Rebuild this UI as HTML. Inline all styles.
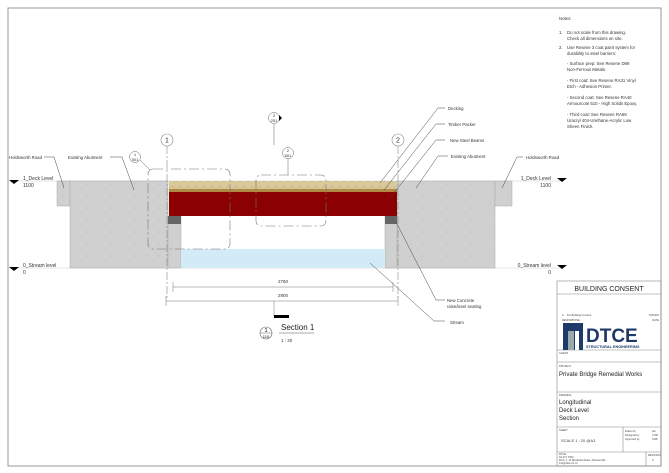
<!DOCTYPE html>
<html><head><meta charset="utf-8"><style>
html,body{margin:0;padding:0;background:#fff;}
svg{display:block;font-family:"Liberation Sans",sans-serif;}
</style></head><body>
<svg width="669" height="473" viewBox="0 0 669 473" xmlns="http://www.w3.org/2000/svg">
<defs>
<pattern id="dk" width="8" height="8" patternUnits="userSpaceOnUse">
<rect width="8" height="8" fill="#d9c99a"/>
<path d="M0 6 L4 2 L8 6" stroke="#b8a070" stroke-width="0.5" fill="none"/>
</pattern>
<pattern id="cc" width="12" height="12" patternUnits="userSpaceOnUse">
<rect width="12" height="12" fill="#d0d0d0"/>
<circle cx="3" cy="4" r="0.5" fill="#aaa"/><circle cx="9" cy="9" r="0.4" fill="#b5b5b5"/>
</pattern>
</defs>
<rect x="8" y="8" width="653" height="458" fill="none" stroke="#999" stroke-width="1"/>
<!-- notes -->
<g font-size="4.3" fill="#333">
<text x="559" y="20">Notes:</text>
<text x="559" y="34">1.</text><text x="567" y="34">Do not scale from this drawing.</text>
<text x="567" y="40">Check all dimensions on site.</text>
<text x="559" y="49">2.</text><text x="567" y="49">Use Resene 3 coat paint system for</text>
<text x="567" y="55">durability to steel barriers:</text>
<text x="567" y="65">- Surface prep: See Resene D89</text>
<text x="567" y="71">Non-Ferrous Metals.</text>
<text x="567" y="82">- First coat: See Resene RA31 Vinyl</text>
<text x="567" y="88">Etch - Adhesion Primer.</text>
<text x="567" y="99">- Second coat: See Resene RA40</text>
<text x="567" y="105">Armourcote 510 - High Solids Epoxy.</text>
<text x="567" y="116">- Third coat: See Resene RA59</text>
<text x="567" y="122">Uracryl 404-Urethane-Acrylic Low</text>
<text x="567" y="128">Sheen Finish.</text>
</g>
<!-- level lines -->
<line x1="10" y1="181" x2="560" y2="181" stroke="#ccc" stroke-width="0.5"/>
<line x1="10" y1="268" x2="560" y2="268" stroke="#ccc" stroke-width="0.5"/>
<!-- abutments -->
<rect x="57" y="181" width="13" height="25" fill="url(#cc)" stroke="#aaa" stroke-width="0.5"/>
<rect x="70" y="181" width="98" height="87" fill="url(#cc)" stroke="#aaa" stroke-width="0.5"/>
<rect x="168" y="216" width="13" height="52" fill="url(#cc)" stroke="#aaa" stroke-width="0.5"/>
<rect x="397" y="181" width="98" height="87" fill="url(#cc)" stroke="#aaa" stroke-width="0.5"/>
<rect x="385" y="216" width="12" height="52" fill="url(#cc)" stroke="#aaa" stroke-width="0.5"/>
<rect x="495" y="181" width="17" height="25" fill="url(#cc)" stroke="#aaa" stroke-width="0.5"/>
<!-- water -->
<rect x="181" y="249" width="204" height="19" fill="#d3ebf7"/>
<!-- deck -->
<rect x="169" y="181" width="228" height="8" fill="url(#dk)"/>
<rect x="169" y="189" width="228" height="3" fill="#b08a45"/>
<rect x="169" y="192" width="228" height="24" fill="#8b0000"/>
<rect x="168" y="216" width="13" height="8" fill="#666"/>
<rect x="385" y="216" width="12" height="8" fill="#666"/>
<!-- gridlines -->
<g stroke="#888" stroke-width="0.6" fill="#fff">
<line x1="167" y1="146" x2="167" y2="300" stroke-dasharray="8 2 2 2"/>
<line x1="398" y1="146" x2="398" y2="300" stroke-dasharray="8 2 2 2"/>
<circle cx="167" cy="140" r="6"/><circle cx="398" cy="140" r="6"/>
</g>
<text x="167" y="142.5" font-size="7" text-anchor="middle" fill="#333">1</text>
<text x="398" y="142.5" font-size="7" text-anchor="middle" fill="#333">2</text>
<!-- callout boxes -->
<g stroke="#777" stroke-width="0.6" fill="none" stroke-dasharray="10 3 2 3">
<rect x="148" y="169" width="82" height="80" rx="5"/>
<rect x="256" y="175" width="70" height="51" rx="5"/>
</g>
<g stroke="#666" stroke-width="0.5" fill="#fff">
<circle cx="135" cy="157" r="5.5"/><circle cx="288" cy="153" r="5.5"/><circle cx="274" cy="118" r="5.5"/>
<line x1="140" y1="160" x2="150" y2="170"/><line x1="288" y1="159" x2="288" y2="175"/>
<line x1="274" y1="124" x2="274" y2="145"/>
</g>
<path d="M271 110 L277 114 L271 126Z" fill="#000" opacity="0"/>
<path d="M279 118 l3 0 -3 -3z M279 118 l3 0 -3 3z" fill="#000"/>
<g font-size="4" text-anchor="middle" fill="#333">
<text x="135" y="156">1</text><text x="135" y="161">501</text>
<text x="288" y="152">2</text><text x="288" y="157">501</text>
<text x="274" y="117">2</text><text x="274" y="122">251</text>
</g>
<!-- level markers -->
<g font-size="5" fill="#333">
<path d="M9 180 h10 l-5 4z M9 267 h10 l-5 4z M228 180 h0z" fill="#000"/>
<text x="23" y="180">1_Deck Level</text><text x="23" y="187">1100</text>
<text x="23" y="267">0_Stream level</text><text x="23" y="274">0</text>
<path d="M557 178 h10 l-5 4z M557 265 h10 l-5 4z" fill="#000"/>
<text x="551" y="180" text-anchor="end">1_Deck Level</text><text x="551" y="187" text-anchor="end">1100</text>
<text x="551" y="267" text-anchor="end">0_Stream level</text><text x="551" y="274" text-anchor="end">0</text>
</g>
<!-- labels with leaders -->
<g font-size="4.3" fill="#333">
<text x="9" y="159">Holdsworth Road</text>
<text x="68" y="159">Existing Abutment</text>
<text x="448" y="110">Decking</text>
<text x="448" y="126">Timber Packer</text>
<text x="450" y="142">New Steel Beams</text>
<text x="451" y="158">Existing Abutment</text>
<text x="526" y="159">Holdsworth Road</text>
<text x="447" y="302">New Concrete</text>
<text x="447" y="308">raise/level seating</text>
<text x="450" y="324">Stream</text>
</g>
<g stroke="#444" stroke-width="0.5" fill="none">
<polyline points="44,157 54,157 64,188"/>
<polyline points="110,157 122,157 134,190"/>
<polyline points="445,108 438,108 380,183"/>
<polyline points="445,124 436,124 384,190"/>
<polyline points="445,140 436,140 390,198"/>
<polyline points="448,156 438,156 416,188"/>
<polyline points="523,157 517,157 502,188"/>
<polyline points="445,300 436,300 396,222"/>
<polyline points="445,321 434,321 370,263"/>
</g>
<!-- dimensions -->
<g stroke="#777" stroke-width="0.5">
<line x1="173" y1="287" x2="393" y2="287"/><line x1="166" y1="301" x2="398" y2="301"/>
<line x1="173" y1="282" x2="173" y2="292"/><line x1="393" y1="282" x2="393" y2="292"/>
<line x1="166" y1="296" x2="166" y2="306"/><line x1="398" y1="296" x2="398" y2="306"/>
<line x1="274" y1="301" x2="274" y2="316"/>
</g>
<rect x="274" y="315" width="15" height="3" fill="#000"/>
<g font-size="4.5" fill="#333" text-anchor="middle"><text x="283" y="283">2760</text><text x="283" y="297">2900</text></g>
<circle cx="266" cy="333" r="6" fill="#fff" stroke="#666" stroke-width="0.6"/>
<line x1="260" y1="333" x2="272" y2="333" stroke="#666" stroke-width="0.5"/>
<text x="266" y="332" font-size="5.5" text-anchor="middle">1</text>
<text x="266" y="338" font-size="4" text-anchor="middle">110</text>
<text x="281" y="330" font-size="8" fill="#222">Section 1</text>
<line x1="279" y1="333" x2="314" y2="333" stroke="#555" stroke-width="0.5"/>
<text x="281" y="342" font-size="4.5" fill="#333">1 : 20</text>
<!-- title block -->
<g stroke="#888" stroke-width="0.6" fill="none">
<rect x="557" y="281" width="104" height="185"/>
<line x1="557" y1="294" x2="661" y2="294"/>
<line x1="557" y1="350" x2="661" y2="350"/>
<line x1="557" y1="362" x2="661" y2="362"/>
<line x1="557" y1="392" x2="661" y2="392"/>
<line x1="557" y1="427" x2="661" y2="427"/>
<line x1="557" y1="452" x2="661" y2="452"/>
<line x1="623" y1="427" x2="623" y2="452"/>
<line x1="646" y1="452" x2="646" y2="466"/>
</g>
<text x="609" y="291" font-size="7" text-anchor="middle" fill="#222">BUILDING CONSENT</text>
<g font-size="2.6" fill="#444">
<text x="562" y="316">A</text><text x="567" y="316">For Building Consent</text><text x="659" y="316" text-anchor="end">15/03/22</text>
<text x="562" y="321">REV</text><text x="567" y="321">PURPOSE</text><text x="659" y="321" text-anchor="end">DATE</text>
<text x="559" y="354">CLIENT</text><text x="559" y="367">PROJECT</text><text x="559" y="396">DRAWING</text>
<text x="559" y="431">SHEET</text>
<text x="625" y="432">Drawn by</text><text x="625" y="436">Designed by</text><text x="625" y="440">Approved by</text>
<text x="652" y="432">HA</text><text x="652" y="436">YOM</text><text x="652" y="440">SUB</text>
<text x="559" y="455">DTCE</text><text x="559" y="458">04 471 7933</text><text x="559" y="461">Floor 1, 11 Broderick Road, Johnsonville</text><text x="559" y="464">info@dtce.co.nz</text>
<text x="648" y="456">REVISION</text><text x="652" y="461">A</text>
</g>
<text x="561" y="442" font-size="4" fill="#444">SCALE    1 : 20    @A3</text>
<!-- logo -->
<rect x="563" y="323" width="20" height="27" fill="#1f3a68"/>
<rect x="568" y="331" width="6" height="19" fill="#9aa"/>
<rect x="575" y="331" width="4" height="19" fill="#fff"/>
<text x="586" y="342" font-size="19" font-weight="bold" fill="#1f3a68">DTCE</text>
<text x="586" y="348" font-size="3.8" font-weight="bold" fill="#1f3a68">STRUCTURAL ENGINEERING</text>
<text x="559" y="376" font-size="6" fill="#222">Private Bridge Remedial Works</text>
<g font-size="6" fill="#222">
<text x="559" y="404">Longitudinal</text><text x="559" y="412">Deck Level</text><text x="559" y="420">Section</text>
</g>
</svg>
</body></html>
